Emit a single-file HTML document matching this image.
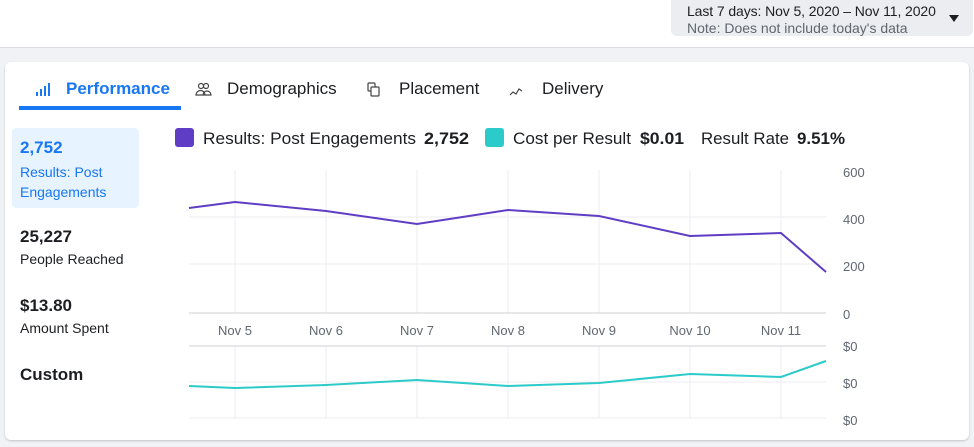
<!DOCTYPE html>
<html><head><style>
body{margin:0;width:974px;height:447px;background:#f0f2f5;font-family:"Liberation Sans",sans-serif;position:relative;overflow:hidden}
.top{position:absolute;left:0;top:0;width:974px;height:47px;background:#fff;border-bottom:1px solid #dadde1}
.dd{position:absolute;left:671px;top:0;width:302px;height:36px;background:#ebedf0;border-radius:0 0 6px 6px}
.dd .a{position:absolute;left:16px;top:3px;font-size:14px;color:#1c1e21;letter-spacing:-0.1px}
.dd .b{position:absolute;left:16px;top:20px;font-size:14px;color:#606770}
.card{position:absolute;left:5px;top:62px;width:964px;height:378px;background:#fff;border-radius:6px;box-shadow:0 1px 2px rgba(0,0,0,.2)}
.t{position:absolute;font-size:17px;color:#1c1e21}
.s{position:absolute;font-size:14px;color:#1c1e21}
</style></head><body>
<div class="top"><div class="dd"><div class="a">Last 7 days: Nov 5, 2020 – Nov 11, 2020</div><div class="b">Note: Does not include today's data</div>
<div style="position:absolute;left:278px;top:15px;width:0;height:0;border-left:5px solid transparent;border-right:5px solid transparent;border-top:7px solid #1c1e21"></div></div></div>
<div class="card"></div>
<svg style="position:absolute;left:0;top:0" width="974" height="447">
<g fill="#1877f2"><rect x="36" y="92" width="2" height="4"/><rect x="40" y="89" width="2" height="7"/><rect x="44" y="86" width="2" height="10"/><rect x="48" y="83" width="2" height="13"/></g>
<rect x="19" y="106" width="162" height="4" fill="#1877f2"/>
<g fill="none" stroke="#444" stroke-width="1.2"><circle cx="201" cy="86" r="2.5"/><circle cx="206" cy="86" r="2.5"/><path d="M196 95a4 4 0 0 1 9 0zM203 95a4 4 0 0 1 8 0z"/>
<rect x="368" y="83" width="7" height="8" rx="1"/><rect x="371" y="87" width="8" height="9" rx="1" fill="#fff"/>
<path d="M510 95l3-3 3 2 3-5 3 2"/></g>
<text x="66" y="94" font-size="17" font-weight="bold" fill="#1877f2" font-family="Liberation Sans">Performance</text>
<text x="227" y="94" font-size="17" fill="#1c1e21" font-family="Liberation Sans">Demographics</text>
<text x="399" y="94" font-size="17" fill="#1c1e21" font-family="Liberation Sans">Placement</text>
<text x="542" y="94" font-size="17" fill="#1c1e21" font-family="Liberation Sans">Delivery</text>
<rect x="12" y="128" width="127" height="80" rx="4" fill="#e7f3ff"/>
<rect x="175" y="128" width="19" height="19" rx="3" fill="#5f3dc4"/>
<rect x="485" y="128" width="19" height="19" rx="3" fill="#2bcbc9"/>
<g stroke="#eceef0" stroke-width="1">
<line x1="235" y1="170" x2="235" y2="313"/><line x1="326" y1="170" x2="326" y2="313"/><line x1="417" y1="170" x2="417" y2="313"/><line x1="508" y1="170" x2="508" y2="313"/><line x1="599" y1="170" x2="599" y2="313"/><line x1="690" y1="170" x2="690" y2="313"/><line x1="781" y1="170" x2="781" y2="313"/>
<line x1="235" y1="346" x2="235" y2="418"/><line x1="326" y1="346" x2="326" y2="418"/><line x1="417" y1="346" x2="417" y2="418"/><line x1="508" y1="346" x2="508" y2="418"/><line x1="599" y1="346" x2="599" y2="418"/><line x1="690" y1="346" x2="690" y2="418"/><line x1="781" y1="346" x2="781" y2="418"/>
<line x1="189" y1="217" x2="826" y2="217"/><line x1="189" y1="264" x2="826" y2="264"/><line x1="189" y1="382" x2="826" y2="382"/><line x1="189" y1="418" x2="826" y2="418"/>
</g>
<line x1="189" y1="313" x2="826" y2="313" stroke="#ccd0d5"/><line x1="189" y1="346" x2="826" y2="346" stroke="#ccd0d5"/>
<polyline fill="none" stroke="#5f3dc4" stroke-width="2" points="189,208 235,202 326,211 417,224 508,210 599,216 690,236 781,233 826,272"/>
<polyline fill="none" stroke="#2bcbc9" stroke-width="2" points="189,386 235,388 326,385 417,380 508,386 599,383 690,374 781,377 826,361"/>
<g font-family="Liberation Sans" font-size="13" fill="#606770" text-anchor="middle">
<text x="235" y="335">Nov 5</text><text x="326" y="335">Nov 6</text><text x="417" y="335">Nov 7</text><text x="508" y="335">Nov 8</text><text x="599" y="335">Nov 9</text><text x="690" y="335">Nov 10</text><text x="781" y="335">Nov 11</text></g>
<g font-family="Liberation Sans" font-size="13" fill="#606770">
<text x="843" y="177">600</text><text x="843" y="224">400</text><text x="843" y="271">200</text><text x="843" y="319">0</text>
<text x="843" y="351">$0</text><text x="843" y="388">$0</text><text x="843" y="425">$0</text></g>
<g font-family="Liberation Sans" font-size="17" fill="#1c1e21">
<text x="203" y="144" textLength="213" lengthAdjust="spacingAndGlyphs">Results: Post Engagements</text>
<text x="424" y="144" font-weight="bold" textLength="45" lengthAdjust="spacingAndGlyphs">2,752</text>
<text x="513" y="144" textLength="118" lengthAdjust="spacingAndGlyphs">Cost per Result</text>
<text x="640" y="144" font-weight="bold" textLength="44" lengthAdjust="spacingAndGlyphs">$0.01</text>
<text x="701" y="144" textLength="88" lengthAdjust="spacingAndGlyphs">Result Rate</text>
<text x="797" y="144" font-weight="bold" textLength="48" lengthAdjust="spacingAndGlyphs">9.51%</text>
</g>
</svg>
<div class="t" style="left:20px;top:138px;color:#1877f2;font-weight:bold">2,752</div>
<div class="s" style="left:20px;top:162px;color:#1877f2;line-height:20px">Results: Post<br>Engagements</div>
<div class="t" style="left:20px;top:227px;font-weight:bold">25,227</div>
<div class="s" style="left:20px;top:251px">People Reached</div>
<div class="t" style="left:20px;top:296px;font-weight:bold">$13.80</div>
<div class="s" style="left:20px;top:320px">Amount Spent</div>
<div class="t" style="left:20px;top:365px;font-weight:bold">Custom</div>
</body></html>
